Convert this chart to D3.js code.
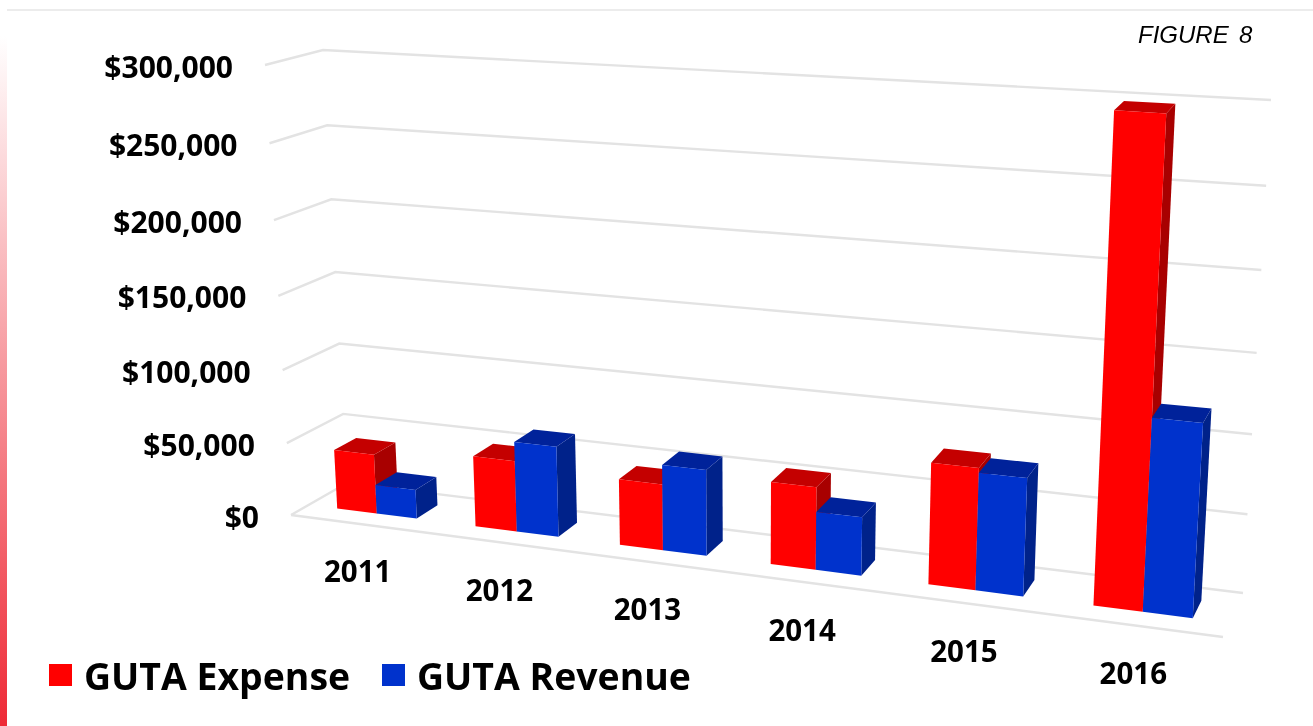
<!DOCTYPE html>
<html><head><meta charset="utf-8">
<script src="https://cdn.jsdelivr.net/npm/d3@7/dist/d3.min.js"></script>
<style>html,body{margin:0;padding:0;background:#fff}svg{display:block}</style>
</head><body><svg id="c" width="1313" height="726"></svg>
<script>
const years = ["2011","2012","2013","2014","2015","2016"];
const expense = [41000,48000,44000,54000,78000,299000];
const revenue = [20000,61000,57000,38000,75000,120000];
const tickValues = [0,50000,100000,150000,200000,250000,300000];
const seriesNames = ["GUTA Expense","GUTA Revenue"];
const figureLabel = "FIGURE  8";

const W = 1313, H = 726, FONT = "'Open Sans', sans-serif";
const svg = d3.select("#c");
const defs = svg.append("defs");
const g1 = defs.append("linearGradient").attr("id","strip").attr("x1",0).attr("x2",0).attr("y1",0).attr("y2",1);
g1.append("stop").attr("offset","0.05").attr("stop-color","#ffffff");
g1.append("stop").attr("offset","1").attr("stop-color","#ee2a36");
const blur = defs.append("filter").attr("id","soft").attr("x","-5%").attr("y","-5%").attr("width","110%").attr("height","110%");
blur.append("feGaussianBlur").attr("stdDeviation",0.7);
const blurT = defs.append("filter").attr("id","softT").attr("x","-5%").attr("y","-5%").attr("width","110%").attr("height","110%");
blurT.append("feGaussianBlur").attr("stdDeviation",0.45);

svg.append("rect").attr("width",W).attr("height",H).attr("fill","#fff");
svg.append("rect").attr("x",0).attr("y",0).attr("width",7).attr("height",H).attr("fill","url(#strip)");
svg.append("rect").attr("x",7).attr("y",9).attr("width",W-7).attr("height",2).attr("fill","#ececec");

// Perspective camera frame: the four floor corners and the four corners of the $300,000 plane
const floorFront = [[291,515],[1223,637]], floorBack = [[347,483],[1243,593]];
const topFront = [[265,65],[1252,125]], topBack = [[323,50],[1271,100]];
const uScale = d3.scaleLinear().domain([0,years.length]).range([0,1]);
const tScale = d3.scaleLinear().domain([0,300000]).range([0,1]);
const persp = (t,a) => t*a/(1+t*(a-1));
const mix = (p,q,t) => [p[0]+(q[0]-p[0])*t, p[1]+(q[1]-p[1])*t];
const plane = (front,back,s,v) => mix(mix(front[0],front[1],s),mix(back[0],back[1],s),v);
const project = (cat,depth,val) => {
  const s=persp(uScale(cat),0.875);
  return mix(plane(floorFront,floorBack,s,depth),plane(topFront,topBack,s,depth),persp(tScale(val),0.95));
};
const line = d3.line();
const chart = svg.append("g").attr("filter","url(#soft)");
const gridColor = "#e3e3e3";
const n = years.length;

chart.selectAll("path.grid").data(tickValues).join("path").attr("class","grid")
  .attr("fill","none").attr("stroke",gridColor).attr("stroke-width",2.4)
  .attr("d",d=>line([project(0,0,d),project(0,1,d),project(n,1,d)]));
chart.append("path").attr("fill","none").attr("stroke",gridColor).attr("stroke-width",2.4)
  .attr("d",line([project(0,0,0),project(n,0,0)]));

const colours = [{front:"#ff0000",top:"#c40000",side:"#a80000"},{front:"#0033cc",top:"#00239a",side:"#00208a"}];
const pad = 0.21, barW = (1-2*pad)/2, d0 = 0.32, d1 = 0.72;
const bars = [];
years.forEach((y,i)=>{
  [expense[i],revenue[i]].forEach((v,s)=>bars.push({cat:i,s,v}));
});
const barG = chart.selectAll("g.bar").data(bars).join("g").attr("class","bar");
const poly = a => line(a)+"Z";
barG.append("path").attr("fill",d=>colours[d.s].side).attr("d",d=>{
  const r=d.cat+pad+(d.s+1)*barW;
  return poly([project(r,d0,0),project(r,d1,0),project(r,d1,d.v),project(r,d0,d.v)]);
});
barG.append("path").attr("fill",d=>colours[d.s].top).attr("d",d=>{
  const l=d.cat+pad+d.s*barW,r=l+barW;
  return poly([project(l,d0,d.v),project(r,d0,d.v),project(r,d1,d.v),project(l,d1,d.v)]);
});
barG.append("path").attr("fill",d=>colours[d.s].front).attr("d",d=>{
  const l=d.cat+pad+d.s*barW,r=l+barW;
  return poly([project(l,d0,0),project(r,d0,0),project(r,d0,d.v),project(l,d0,d.v)]);
});

const text = svg.append("g").attr("filter","url(#softT)").attr("font-family",FONT).attr("font-weight",700).attr("fill","#000");
const fmt = d3.format("$,");
text.selectAll("text.ytick").data(tickValues).join("text").attr("class","ytick")
  .attr("text-anchor","end").attr("font-size",30).attr("dominant-baseline","central")
  .attr("x",d=>project(0,0,d)[0]-32).attr("y",d=>project(0,0,d)[1]+1).text(d=>fmt(d));
text.selectAll("text.xtick").data(years).join("text").attr("class","xtick")
  .attr("text-anchor","middle").attr("font-size",29.5).attr("dominant-baseline","central")
  .attr("x",(d,i)=>project(i+0.5,0,0)[0]-2).attr("y",(d,i)=>project(i+0.5,0,0)[1]+47).text(d=>d);

const legendX = d3.scaleOrdinal().domain(seriesNames).range([49,382]);
const leg = svg.append("g");
leg.selectAll("rect").data(seriesNames).join("rect").attr("filter","url(#soft)")
  .attr("x",d=>legendX(d)).attr("y",664).attr("width",23).attr("height",22)
  .attr("fill",(d,i)=>colours[i].front);
text.selectAll("text.leg").data(seriesNames).join("text").attr("class","leg")
  .attr("x",d=>legendX(d)+35).attr("y",675).attr("dominant-baseline","central")
  .attr("font-size",37.4).text(d=>d);

svg.append("text").attr("filter","url(#softT)").attr("x",1138).attr("y",43)
  .attr("font-family","'Liberation Sans',Arial,sans-serif").attr("font-style","italic")
  .attr("font-size",24).attr("fill","#000").attr("word-spacing",-1.5).style("white-space","pre").text(figureLabel);
</script></body></html>
